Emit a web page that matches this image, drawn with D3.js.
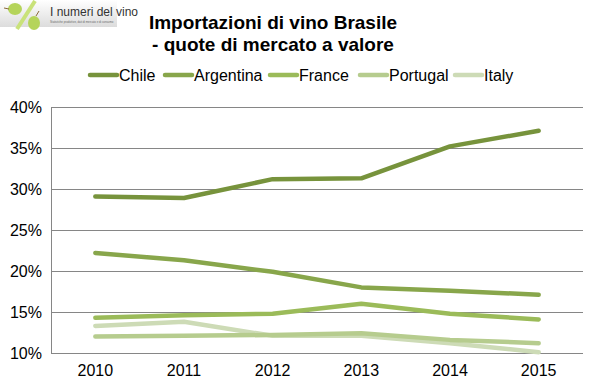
<!DOCTYPE html>
<html>
<head>
<meta charset="utf-8">
<script src="https://cdn.jsdelivr.net/npm/d3@7"></script>
<style>
  body { margin: 0; background: #fff; }
  svg { display: block; }
</style>
</head>
<body>
<div id="chart"></div>
<script>
// data
const years = ["2010", "2011", "2012", "2013", "2014", "2015"];
const chile = [29.1, 28.9, 31.2, 31.3, 35.2, 37.1];
const argentina = [22.2, 21.3, 19.9, 18.0, 17.6, 17.1];
const france = [14.3, 14.6, 14.8, 16.0, 14.8, 14.1];
const portugal = [12.0, 12.1, 12.2, 12.4, 11.6, 11.2];
const italy = [13.3, 13.8, 12.1, 12.1, 11.2, 10.1];
const seriesNames = ["Chile", "Argentina", "France", "Portugal", "Italy"];
const yTicks = [10, 15, 20, 25, 30, 35, 40];

const colors = ["#77933c", "#88a64b", "#9bbb59", "#b6cc8e", "#cddbb6"];
const series = [chile, argentina, france, portugal, italy];

const width = 598, height = 389;
const marge = { top: 107, left: 51, right: 15, bottom: 36 };
const font = "Liberation Sans Narrow, Arial Narrow, sans-serif";

const svg = d3.select("#chart").append("svg")
    .attr("width", width).attr("height", height);

// little logo in the corner
const logo = svg.append("g");
const grad = svg.append("defs").append("linearGradient")
    .attr("id", "logoBg").attr("x1", 0).attr("x2", 0).attr("y1", 0).attr("y2", 1);
grad.append("stop").attr("offset", "0%").attr("stop-color", "#ffffff");
grad.append("stop").attr("offset", "100%").attr("stop-color", "#dcdcdc");
logo.append("rect").attr("x", 0).attr("y", 0).attr("width", 117).attr("height", 27)
    .attr("fill", "url(#logoBg)");
logo.append("line").attr("x1", 17).attr("y1", 29).attr("x2", 35).attr("y2", 1)
    .attr("stroke", "#c9e27a").attr("stroke-width", 4);
logo.append("ellipse").attr("cx", 15).attr("cy", 9).attr("rx", 7).attr("ry", 6)
    .attr("fill", "#b5d45a");
logo.append("ellipse").attr("cx", 34).attr("cy", 23).attr("rx", 6).attr("ry", 7)
    .attr("fill", "#b5d45a");
logo.append("line").attr("x1", 4).attr("y1", 8).attr("x2", 9).attr("y2", 9)
    .attr("stroke", "#8a6a3a").attr("stroke-width", 1);
logo.append("line").attr("x1", 36).attr("y1", 16).attr("x2", 39).attr("y2", 11)
    .attr("stroke", "#8a6a3a").attr("stroke-width", 1);
logo.append("text").attr("x", 50).attr("y", 16)
    .attr("font-family", font)
    .attr("font-size", 12).attr("fill", "#333").text("I numeri del vino");
logo.append("text").attr("x", 50).attr("y", 23)
    .attr("font-family", "Liberation Sans, sans-serif")
    .attr("font-size", 2.8).attr("fill", "#666")
    .text("Statistiche produttive, dati di mercato e di consumo");

// title
const title = svg.append("text")
    .attr("text-anchor", "middle")
    .attr("font-family", font)
    .attr("font-weight", "bold").attr("font-size", 19).attr("fill", "#000");
title.append("tspan").attr("x", 273).attr("y", 29).text("Importazioni di vino Brasile");
title.append("tspan").attr("x", 273).attr("y", 51).text("- quote di mercato a valore");

const x = d3.scaleBand().domain(years).range([marge.left, width - marge.right]);
const y = d3.scaleLinear().domain([10, 40]).range([353, marge.top]);

// gridlines + y axis
const yAxis = d3.axisLeft(y).tickValues(yTicks).tickFormat(d => d + "%")
    .tickSize(-(width - marge.right - marge.left)).tickPadding(9);
const gy = svg.append("g").attr("transform", `translate(${marge.left},0)`).call(yAxis);
gy.select(".domain").attr("stroke", "#868686");
gy.selectAll(".tick line").attr("stroke", "#868686");
gy.selectAll(".tick text").attr("font-family", font).attr("font-size", 16).attr("fill", "#000");

const gx = svg.append("g").attr("transform", `translate(0,353)`)
    .call(d3.axisBottom(x).tickSize(0).tickPadding(12));
gx.select(".domain").remove();
gx.selectAll(".tick text").attr("font-family", font).attr("font-size", 16).attr("fill", "#000");

// lines, drawn back to front so Chile sits on top
const line = d3.line()
    .x((d, i) => x(years[i]) + x.bandwidth() / 2)
    .y(d => y(d));

const order = [4, 3, 2, 1, 0];
svg.append("g").selectAll("path").data(order).join("path")
    .attr("d", i => line(series[i]))
    .attr("fill", "none")
    .attr("stroke", i => colors[i])
    .attr("stroke-width", 4.5)
    .attr("stroke-linecap", "round")
    .attr("stroke-linejoin", "round");

// legend
const legendX = [90, 165, 270, 360, 455];
const lg = svg.append("g").selectAll("g").data(seriesNames).join("g")
    .attr("transform", (d, i) => `translate(${legendX[i]},75)`);
lg.append("line").attr("x1", 0).attr("x2", 27).attr("y1", 0).attr("y2", 0)
    .attr("stroke", (d, i) => colors[i]).attr("stroke-width", 4.5)
    .attr("stroke-linecap", "round");
lg.append("text").attr("x", 29).attr("y", 6)
    .attr("font-family", font).attr("font-size", 16).attr("fill", "#000")
    .text(d => d);
</script>
</body>
</html>
